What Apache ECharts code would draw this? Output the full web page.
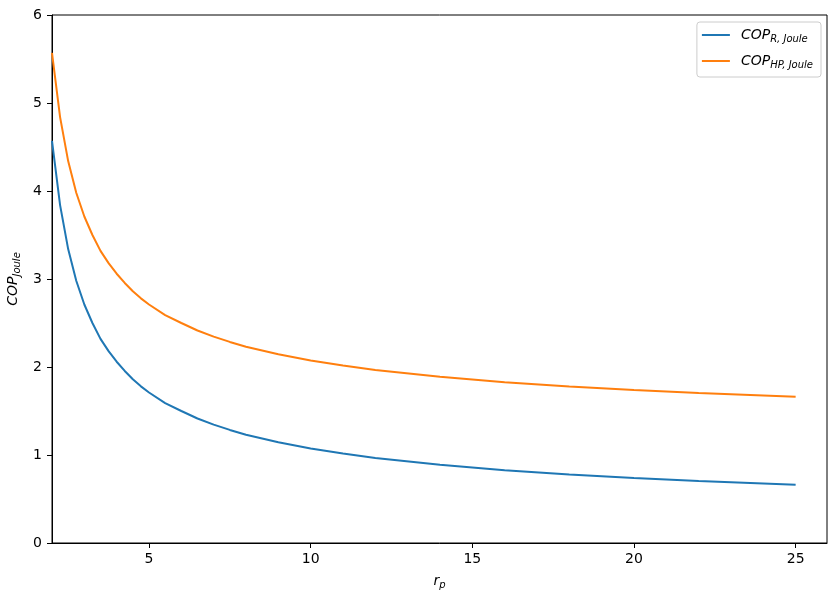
<!DOCTYPE html>
<html>
<head>
<meta charset="utf-8">
<script src="https://cdn.jsdelivr.net/npm/echarts@6/dist/echarts.min.js"></script>
<style>
  html, body { margin: 0; padding: 0; background: #fff; }
  #chart { width: 840px; height: 600px; }
</style>
</head>
<body>
<div id="chart"></div>
<script>
// pressure ratio r_p (x) and the two COP curves
const rp = [2, 2.25, 2.5, 2.75, 3, 3.25, 3.5, 3.75, 4, 4.25, 4.5, 4.75, 5, 5.5, 6, 6.5, 7, 7.5, 8, 9, 10, 11, 12, 14, 16, 18, 20, 22, 25];
const copR = [4.57, 3.84, 3.34, 2.98, 2.71, 2.50, 2.32, 2.18, 2.06, 1.955, 1.86, 1.78, 1.71, 1.59, 1.50, 1.415, 1.345, 1.285, 1.23, 1.145, 1.075, 1.017, 0.967, 0.888, 0.828, 0.779, 0.739, 0.705, 0.663];
const copHP = [5.57, 4.84, 4.34, 3.98, 3.71, 3.50, 3.32, 3.18, 3.06, 2.955, 2.86, 2.78, 2.71, 2.59, 2.50, 2.415, 2.345, 2.285, 2.23, 2.145, 2.075, 2.017, 1.967, 1.888, 1.828, 1.779, 1.739, 1.705, 1.663];
const xTicks = [5, 10, 15, 20, 25];

const font = 'DejaVu Sans';
const pair = (ys) => rp.map((x, i) => [x, ys[i]]);
const mathRich = {
  m: { fontSize: 14, fontStyle: 'italic', fontFamily: font, color: '#000' },
  s: { fontSize: 10, fontStyle: 'italic', fontFamily: font, color: '#000', padding: [8, 0, 0, 0] }
};

const chart = echarts.init(document.getElementById('chart'));
chart.setOption({
  animation: false,
  textStyle: { fontFamily: font },
  grid: {
    left: 52, right: 13, top: 15, bottom: 57,
    containLabel: false,
    outerBoundsMode: 'none',
    show: true, borderColor: '#000', borderWidth: 1, backgroundColor: 'transparent'
  },
  legend: {
    right: 19, top: 22,
    orient: 'vertical',
    icon: 'rect',
    itemWidth: 28, itemHeight: 2, itemGap: 10,
    padding: [6, 8, 7, 5],
    borderColor: '#ccc', borderWidth: 1, borderRadius: 3,
    backgroundColor: '#fff',
    formatter: (name) => name === 'R'
      ? '{m|COP}{s|R, Joule}'
      : '{m|COP}{s|HP, Joule}',
    textStyle: {
      fontFamily: font,
      padding: [0, 0, 0, 6],
      rich: mathRich
    },
    data: ['R', 'HP']
  },
  xAxis: {
    type: 'value',
    min: 2, max: 25.97,
    name: '{m|r}{s|p}',
    nameLocation: 'middle',
    nameGap: 29,
    nameTextStyle: { rich: mathRich },
    axisLine: { show: true, lineStyle: { color: '#000', width: 1 } },
    axisTick: { show: true, length: 5, inside: false, customValues: xTicks, lineStyle: { color: '#000' } },
    axisLabel: { customValues: xTicks, color: '#000', fontSize: 14, margin: 9, fontFamily: font },
    splitLine: { show: false }
  },
  yAxis: {
    type: 'value',
    min: 0, max: 6, interval: 1,
    name: '{m|COP}{s|Joule}',
    nameLocation: 'middle',
    nameGap: 29,
    nameRotate: 90,
    nameTextStyle: { rich: mathRich },
    axisLine: { show: true, lineStyle: { color: '#000', width: 1 } },
    axisTick: { show: true, length: 5, inside: false, lineStyle: { color: '#000' } },
    axisLabel: { color: '#000', fontSize: 14, margin: 10, fontFamily: font },
    splitLine: { show: false }
  },
  series: [
    {
      name: 'R', type: 'line', symbol: 'none', smooth: false,
      color: '#1f77b4',
      lineStyle: { width: 2, color: '#1f77b4' },
      data: pair(copR)
    },
    {
      name: 'HP', type: 'line', symbol: 'none', smooth: false,
      color: '#ff7f0e',
      lineStyle: { width: 2, color: '#ff7f0e' },
      data: pair(copHP)
    }
  ]
});
</script>
</body>
</html>
